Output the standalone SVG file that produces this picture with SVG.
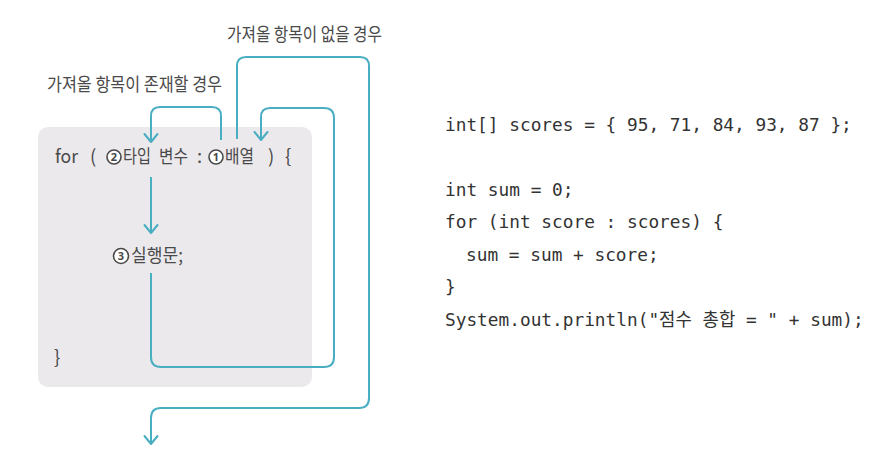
<svg xmlns="http://www.w3.org/2000/svg" width="882" height="460" viewBox="0 0 882 460">
<defs>
<marker id="chev" markerUnits="userSpaceOnUse" markerWidth="20" markerHeight="20" viewBox="-10 -10 20 20" refX="0" refY="0" orient="auto">
<path d="M-8,-6.5 L0,0 L-8,6.5" fill="none" stroke="#4aaec2" stroke-width="2" stroke-linecap="round" stroke-linejoin="round"/>
</marker>
</defs>
<style>
.lbl{font-family:"Noto Sans CJK KR","Noto Sans",sans-serif;font-size:18.5px;fill:#4a4a4a}
.num{font-family:"Noto Sans","Noto Sans CJK KR",sans-serif;font-size:11px;font-weight:bold;fill:#4a4a4a;text-anchor:middle}
.ring{fill:#ffffff;stroke:#4a4a4a;stroke-width:1.6}
.code{font-family:"DejaVu Sans Mono","Noto Sans CJK KR",monospace;font-size:17.8px;fill:#333}
.conn{fill:none;stroke:#4aaec2;stroke-width:2;stroke-linejoin:round}
</style>
<rect width="882" height="460" fill="#ffffff"/>
<g id="box">
<rect x="38" y="127" width="274" height="260" rx="10" fill="#ebe9ec"/>
</g>
<g id="connectors">
<path class="conn" d="M221,140 V116 Q221,107 212,107 H160 Q151,107 151,116 V142" marker-end="url(#chev)"/>
<path class="conn" d="M237,139 V66 Q237,57 246,57 H360 Q369,57 369,66 V398 Q369,408 359,408 H161 Q151,408 151,418 V444" marker-end="url(#chev)"/>
<path class="conn" d="M151,273 V357 Q151,367 161,367 H324 Q334,367 334,357 V118 Q334,108 324,108 H270 Q261,108 261,117 V140" marker-end="url(#chev)"/>
<path class="conn" d="M151,177 V233" marker-end="url(#chev)"/>
</g>
<g id="label-exists">
<text class="lbl" x="47" y="91" textLength="175" lengthAdjust="spacingAndGlyphs">가져올 항목이 존재할 경우</text>
</g>
<g id="label-none">
<text class="lbl" x="227" y="41" textLength="155" lengthAdjust="spacingAndGlyphs">가져올 항목이 없을 경우</text>
</g>
<g id="for-line">
<text class="lbl" x="55" y="163" textLength="23" lengthAdjust="spacingAndGlyphs">for</text>
<text class="lbl" x="90" y="163">(</text>
<circle class="ring" cx="114" cy="157" r="7"/>
<text class="num" x="114" y="161">2</text>
<text class="lbl" x="123" y="163" textLength="28" lengthAdjust="spacingAndGlyphs">타입</text>
<text class="lbl" x="159" y="163" textLength="29" lengthAdjust="spacingAndGlyphs">변수</text>
<text class="lbl" x="197" y="163">:</text>
<circle class="ring" cx="216" cy="157" r="7"/>
<text class="num" x="216" y="161">1</text>
<text class="lbl" x="225" y="163" textLength="29" lengthAdjust="spacingAndGlyphs">배열</text>
<text class="lbl" x="268" y="163">)</text>
<text class="lbl" x="285" y="163">{</text>
</g>
<g id="stmt">
<circle class="ring" cx="121" cy="256" r="7.5"/>
<text class="num" x="121" y="260">3</text>
<text class="lbl" x="131" y="262" textLength="52" lengthAdjust="spacingAndGlyphs">실행문;</text>
</g>
<g id="close-brace">
<text class="lbl" x="54" y="364">}</text>
</g>
<g id="code">
<text class="code" x="445" y="131">int[] scores = { 95, 71, 84, 93, 87 };</text>
<text class="code" x="445" y="196">int sum = 0;</text>
<text class="code" x="445" y="228">for (int score : scores) {</text>
<text class="code" x="466" y="261">sum = sum + score;</text>
<text class="code" x="445" y="293">}</text>
<text class="code" x="445" y="326">System.out.println("점수 총합 = " + sum);</text>
</g>
</svg>
